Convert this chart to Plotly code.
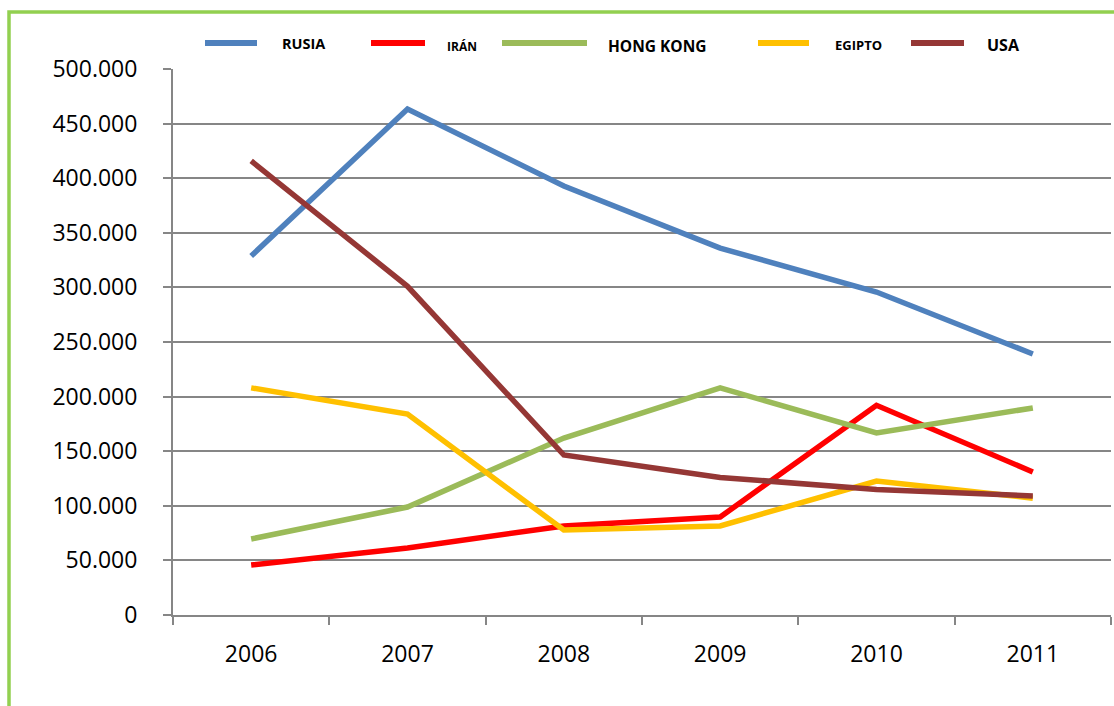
import plotly.graph_objects as go

years = ["2006", "2007", "2008", "2009", "2010", "2011"]
rusia = [328700, 463400, 392900, 336000, 295800, 239000]
iran = [45800, 61400, 81500, 89700, 192000, 131000]
hong_kong = [69600, 98900, 162000, 208000, 166700, 189600]
egipto = [208000, 184000, 77800, 81500, 122700, 107000]
usa = [415800, 301000, 146500, 126000, 115000, 109000]

series_names = ["RUSIA", "IRÁN", "HONG KONG", "EGIPTO", "USA"]
series_values = [rusia, iran, hong_kong, egipto, usa]
colors = ["#4F81BD", "#FF0000", "#9BBB59", "#FFC000", "#953735"]

y_tickvals = [0, 50000, 100000, 150000, 200000, 250000, 300000, 350000, 400000, 450000, 500000]
y_ticktext = ["0", "50.000", "100.000", "150.000", "200.000", "250.000",
              "300.000", "350.000", "400.000", "450.000", "500.000"]

W, H = 1114, 706
L, R, T, B = 173, 3, 69, 91
PW, PH = W - L - R, H - T - B

def px(x):
    return (x - L) / PW

def py(y):
    return (H - B - y) / PH

fig = go.Figure()
for name, vals, c in zip(series_names, series_values, colors):
    fig.add_trace(go.Scatter(x=years, y=vals, name=name, mode="lines",
                             line=dict(color=c, width=5.5), showlegend=False))

shapes = []
annotations = []
# Outer green border
shapes.append(dict(type="rect", xref="paper", yref="paper",
                   x0=px(9), x1=px(1125), y0=py(720), y1=py(12),
                   line=dict(color="#92D050", width=3.5), layer="below"))

# Manual legend (Excel-like layout)
legend_items = [
    # name, line x0, line x1, text x, font size, text y
    ("RUSIA", 205, 257, 280, 14.5, 44),
    ("IRÁN", 371, 425, 445, 12, 47),
    ("HONG KONG", 502, 587, 606, 15.5, 46),
    ("EGIPTO", 758, 809, 833, 13, 45),
    ("USA", 911, 964, 985, 16, 45),
]
for (name, lx0, lx1, tx, fs, ty), c in zip(legend_items, colors):
    shapes.append(dict(type="line", xref="paper", yref="paper",
                       x0=px(lx0), x1=px(lx1), y0=py(43), y1=py(43),
                       line=dict(color=c, width=6)))
    annotations.append(dict(text="<b>" + name + "</b>", xref="paper", yref="paper",
                            x=px(tx), y=py(ty), xanchor="left", yanchor="middle",
                            showarrow=False,
                            font=dict(family="Open Sans", size=fs, color="#000000")))

fig.update_layout(
    width=W, height=H,
    margin=dict(l=L, r=R, t=T, b=B),
    paper_bgcolor="white", plot_bgcolor="white",
    font=dict(family="Open Sans", color="#000000"),
    shapes=shapes, annotations=annotations,
    showlegend=False,
)
fig.update_xaxes(
    type="category", tickson="boundaries", ticks="outside", ticklen=8,
    tickcolor="#868686", tickwidth=2,
    showline=True, linecolor="#868686", linewidth=2,
    showgrid=False, tickfont=dict(size=23, family="Open Sans"),
    ticklabelstandoff=17, range=[-0.5, 5.5],
)
fig.update_yaxes(
    range=[0, 500000], tickvals=y_tickvals, ticktext=y_ticktext,
    ticks="outside", ticklen=8, tickcolor="#868686", tickwidth=2,
    showline=True, linecolor="#868686", linewidth=2,
    showgrid=True, gridcolor="#868686", gridwidth=1.5,
    zeroline=False, tickfont=dict(size=23, family="Open Sans"),
    ticklabelstandoff=21,
)

fig.write_html("out.html")
